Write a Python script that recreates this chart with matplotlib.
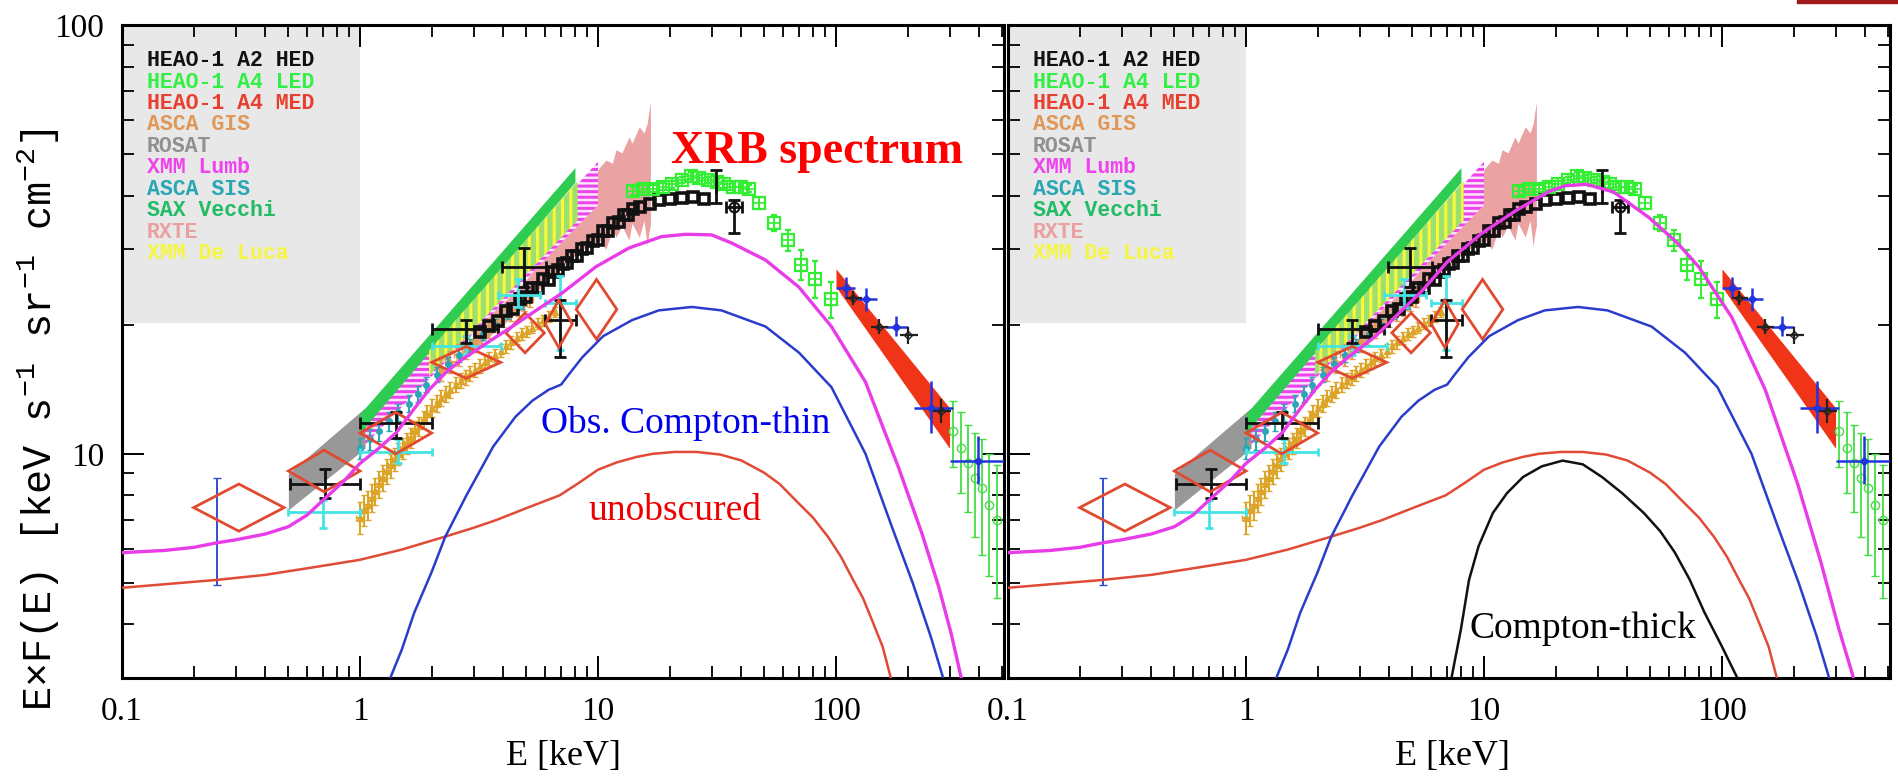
import numpy as np
import matplotlib
matplotlib.use("Agg")
import matplotlib.pyplot as plt
from matplotlib.ticker import FixedLocator, LogLocator, NullFormatter
from matplotlib.patches import Polygon, Rectangle

plt.rcParams["font.family"] = "Liberation Serif"
plt.rcParams["mathtext.fontset"] = "custom"
plt.rcParams["mathtext.rm"] = "Liberation Mono"
plt.rcParams["mathtext.it"] = "Liberation Mono"
plt.rcParams["hatch.linewidth"] = 2.2

MONO = "Liberation Mono"

# ---------------- model components: E [keV] vs E*F(E) ----------------
unobs_E = [0.1, 0.25, 0.4, 0.67, 1.0, 1.5, 2.28, 3.0, 3.72, 5.1, 6.9, 8.3, 10.0, 12.0, 14.6, 17.0, 21.0,
           26.0, 32.6, 40.0, 49.8, 58.0, 67.5, 80.0, 92.6, 105, 118, 130, 143, 157, 170]
unobs_F = [4.87, 5.08, 5.22, 5.46, 5.66, 5.98, 6.41, 6.72, 7.0, 7.5, 8.0, 8.55, 9.18, 9.55, 9.84, 10.0, 10.1,
           10.1, 9.96, 9.65, 9.04, 8.5, 7.8, 7.1, 6.4, 5.75, 5.08, 4.6, 4.04, 3.55, 3.0]

thin_E = [1.34, 1.5, 1.69, 2.0, 2.28, 2.8, 3.63, 4.5, 5.3, 6.2, 7.0, 7.6, 8.6, 10.5, 13.9, 18.0, 24.8,
          33.0, 50.6, 70.0, 95.7, 133, 171, 210, 250, 282]
thin_F = [3.0, 3.5, 4.26, 5.3, 6.4, 8.0, 10.4, 12.2, 13.3, 14.1, 14.5, 15.4, 16.8, 18.8, 20.5, 21.6, 22.0,
          21.6, 19.8, 17.2, 14.3, 10.0, 6.8, 5.0, 3.75, 3.0]

thick_E = [7.3, 8.0, 8.65, 9.5, 10.9, 12.5, 14.6, 17.5, 21.4, 26.0, 31.3, 38.0, 46.9, 55.0, 63.2, 73.0, 84.5, 100, 116]
thick_F = [3.0, 3.9, 5.08, 6.1, 7.28, 8.1, 8.83, 9.35, 9.64, 9.45, 8.83, 8.1, 7.28, 6.6, 5.9, 5.1, 4.26, 3.55, 3.0]

# total XRB model without (left) and with (right) the Compton-thick population
tot_E = [0.1, 0.15, 0.2, 0.25, 0.3, 0.4, 0.5, 0.6, 0.7, 0.85, 1.0, 1.2, 1.42, 1.7, 1.95, 2.3, 2.69, 3.5,
         4.36, 5.5, 7.06, 9.8, 13.5, 18.5, 23.4, 30.0, 36.5, 50.6, 69.7, 95.7, 133, 183, 230, 270, 305, 336]
tot_F = [5.88, 5.95, 6.05, 6.2, 6.3, 6.5, 6.76, 7.2, 7.8, 8.6, 9.5, 10.3, 11.2, 12.8, 14.1, 15.5, 16.6, 18.3,
         19.8, 21.6, 23.7, 27.3, 30.2, 32.1, 32.5, 32.4, 31.0, 28.3, 24.5, 19.8, 14.7, 9.3, 6.5, 4.9, 3.8, 3.0]

totct_E = [0.1, 0.15, 0.2, 0.25, 0.3, 0.4, 0.5, 0.6, 0.7, 0.85, 1.0, 1.2, 1.42, 1.7, 1.95, 2.3, 2.69, 3.5,
           4.4, 5.5, 7.0, 9.8, 13.7, 18.9, 22.0, 27.0, 35.0, 49.2, 65.0, 79.8, 110, 152, 208, 260, 310, 357]
totct_F = [5.88, 5.95, 6.05, 6.2, 6.3, 6.5, 6.76, 7.2, 7.8, 8.6, 9.5, 10.3, 11.2, 12.8, 14.1, 15.6, 16.8, 18.8,
           21.3, 24.0, 28.0, 32.7, 37.0, 41.0, 42.2, 42.5, 40.8, 35.6, 31.0, 27.3, 20.8, 14.1, 8.5, 5.6, 3.9, 3.0]

# ---------------- measurements ----------------
rosat_E, rosat_lo, rosat_hi = [0.5, 1.05], [7.4, 10.3], [9.0, 12.8]
sax_E, sax_lo, sax_hi = [1.0, 8.0], [11.2, 43.0], [12.4, 46.5]
deluca_E, deluca_lo, deluca_hi = [1.95, 8.2], [15.2, 35.0], [17.4, 43.2]
lumb_E, lumb_lo, lumb_hi = [1.0, 10.0], [10.2, 38.0], [11.6, 48.0]

rxte_E = [3.0, 4.0, 5.0, 6.0, 7.0, 8.0, 9.0, 10.1, 10.8, 11.5, 11.9, 12.6, 13.5, 13.9, 14.9, 15.6, 16.1, 16.4, 16.6]
rxte_hi = [19.5, 22.5, 25.5, 29.0, 32.5, 36.0, 40.5, 46.4, 48.4, 47.6, 51.2, 50.3, 54.8, 53.0, 57.9, 56.0, 59.0, 63.4, 66.0]
rxte_lo = [17.5, 20.0, 22.5, 25.0, 27.0, 29.0, 30.5, 31.5, 30.0, 33.5, 32.0, 34.0, 31.5, 34.5, 32.0, 35.0, 30.5, 33.0, 34.0]

med_E, med_lo, med_hi = [100, 300], [24.5, 10.3], [27.0, 12.8]

gis_E = [1.0, 1.04, 1.08, 1.12, 1.16, 1.2, 1.25, 1.3, 1.35, 1.4, 1.45, 1.51, 1.57, 1.63, 1.7, 1.77, 1.85,
         1.92, 2.0, 2.1, 2.2, 2.3, 2.4, 2.52, 2.65, 2.78, 2.9, 3.05, 3.2, 3.35, 3.5, 3.7, 3.9, 4.1, 4.3,
         4.55, 4.8, 5.05, 5.3, 5.6, 5.9, 6.2, 6.6]
gis_F = [7.1, 7.4, 7.6, 7.9, 8.2, 8.5, 8.8, 9.1, 9.4, 9.7, 10.0, 10.3, 10.6, 10.9, 11.3, 11.6, 12.0,
         12.4, 12.8, 13.1, 13.5, 13.8, 14.1, 14.5, 14.8, 15.1, 15.4, 15.7, 16.0, 16.4, 16.7, 17.0, 17.4,
         17.8, 18.2, 18.6, 19.0, 19.3, 19.7, 20.1, 20.5, 20.9, 21.4]
gis2_E = [2.2, 2.4, 2.6, 2.8, 3.0, 3.25, 3.5, 3.75, 4.0, 4.3, 4.6, 4.9, 5.2]
gis2_F = [15.8, 16.4, 17.0, 17.6, 18.3, 18.9, 19.6, 20.2, 20.8, 21.4, 22.0, 22.5, 23.0]

sis_E = [1.0, 1.1, 1.2, 1.32, 1.45, 1.6, 1.75, 1.9, 2.1, 2.35, 2.6, 2.9, 3.3, 3.7, 4.2, 4.8]
sis_F = [10.3, 10.8, 11.3, 11.9, 12.5, 13.1, 13.8, 14.5, 15.3, 16.2, 17.0, 17.9, 19.0, 20.0, 21.2, 22.4]

hed_E = [3.2, 3.5, 3.8, 4.1, 4.4, 4.7, 5.0, 5.3, 5.6, 5.9, 6.2, 6.5, 6.8, 7.1, 7.4, 7.8, 8.2, 8.6, 9.0,
         9.5, 10.0, 10.5, 11.0, 11.6, 12.2, 12.8, 13.4, 14.0, 15.0, 16.5, 18.0, 20.0, 22.5, 25.0, 28.0]
hed_F = [19.2, 19.9, 20.4, 21.5, 21.8, 22.9, 23.2, 24.3, 24.4, 25.5, 25.4, 26.6, 26.8, 27.7, 27.8, 28.9,
         28.9, 30.0, 30.2, 31.3, 31.6, 33.0, 33.1, 34.5, 34.8, 36.1, 36.1, 37.3, 37.6, 38.3, 39.0, 39.2,
         39.5, 39.8, 39.3]

led_E = [14.0, 15.5, 17.0, 18.7, 20.5, 22.5, 24.5, 26.5, 29.0, 31.5, 34.0, 37.0, 40.0, 43.0, 47.5, 55.0, 63.0, 71.5, 82.0, 95.7]
led_F = [41.0, 41.5, 41.5, 42.0, 42.5, 43.5, 44.5, 44.0, 43.5, 43.0, 42.5, 42.0, 42.0, 41.5, 38.5, 34.5, 31.5, 27.6, 25.6, 22.9]
led_dF = [0.8, 0.8, 0.8, 0.8, 0.8, 0.8, 0.8, 0.8, 0.8, 0.8, 0.8, 0.8, 0.8, 0.8, 1.2, 1.5, 1.8, 2.2, 2.5, 2.2]

sax_hx_E = [310, 335, 360, 385, 410, 440, 475]
sax_hx_F = [11.3, 10.3, 9.5, 8.8, 8.3, 7.6, 7.0]
sax_hx_dF = [2.0, 2.2, 2.2, 2.4, 2.5, 2.4, 2.4]

# crosses: centre, x range, y range
blue_E = [110, 134, 179, 251, 395]
blue_F = [24.4, 22.9, 19.8, 12.8, 9.6]
blue_xlo, blue_xhi = [100, 122, 160, 212, 300], [120, 148, 200, 310, 510]
blue_ylo, blue_yhi = [23.1, 21.5, 18.8, 11.2, 8.5], [25.8, 24.3, 21.0, 14.8, 11.0]

bhx_E = [118, 151, 201, 277]
bhx_F = [23.1, 19.8, 18.9, 12.6]
bhx_xlo, bhx_xhi = [110, 140, 185, 255], [128, 165, 222, 305]
bhx_ylo, bhx_yhi = [22.2, 19.0, 18.0, 11.8], [24.0, 20.6, 19.8, 13.4]

blx_E = [0.71, 1.41, 2.8, 4.9, 6.9, 31.3, 37.4]
blx_F = [8.5, 11.8, 19.5, 27.3, 20.5, 42.0, 37.7]
blx_xlo, blx_xhi = [0.51, 1.0, 2.0, 3.95, 6.0, 31.3, 34.4], [1.0, 2.0, 3.8, 6.05, 8.1, 31.3, 40.2]
blx_ylo, blx_yhi = [7.9, 10.9, 18.1, 24.5, 16.8, 38.5, 32.8], [9.2, 12.5, 20.5, 30.2, 22.8, 45.9, 39.1]

cyan_E = [0.70, 1.45, 2.8, 4.6, 6.9]
cyan_F = [7.3, 10.1, 17.8, 23.5, 22.5]
cyan_xlo, cyan_xhi = [0.5, 1.0, 2.0, 3.8, 6.0], [1.0, 2.0, 3.9, 5.7, 8.1]
cyan_ylo, cyan_yhi = [6.7, 9.5, 17.0, 22.0, 17.5], [7.8, 10.8, 18.8, 25.5, 26.0]

euve_E, euve_F, euve_ylo, euve_yhi = [0.25], [6.6], [4.95], [8.8]

# error boxes drawn as diamonds
box_Elo = [0.2, 0.5, 1.0, 2.0, 4.1, 6.0, 8.1]
box_Ehi = [0.48, 1.0, 2.0, 3.9, 5.95, 7.8, 12.0]
box_Flo = [6.6, 8.15, 10.0, 15.0, 17.2, 17.7, 18.5]
box_Fhi = [8.5, 10.2, 12.5, 17.8, 21.3, 22.8, 25.5]

legend_labels = ["HEAO-1 A2 HED", "HEAO-1 A4 LED", "HEAO-1 A4 MED", "ASCA GIS", "ROSAT",
                 "XMM Lumb", "ASCA SIS", "SAX Vecchi", "RXTE", "XMM De Luca"]
legend_colors = ["#111111", "#33ee44", "#e84030", "#e09858", "#909090",
                 "#ee44ee", "#2aa6b4", "#22bb66", "#eaa0a0", "#f6f640"]

C_MAG, C_BLUE, C_RED = "#e83ce8", "#2a3ccc", "#e04a36"


def cross(ax, E, F, xlo, xhi, ylo, yhi, color, lw=2.0, cap=3, **kw):
    E, F = np.array(E, float), np.array(F, float)
    xerr = [E - np.array(xlo), np.array(xhi) - E]
    yerr = [F - np.array(ylo), np.array(yhi) - F]
    ax.errorbar(E, F, xerr=xerr, yerr=yerr, fmt="none", ecolor=color,
                elinewidth=lw, capsize=cap, capthick=lw, **kw)


def draw_panel(ax, mag_E, mag_F, thick=False):
    ax.set_xscale("log")
    ax.set_yscale("log")
    ax.set_xlim(0.1, 508)
    ax.set_ylim(3, 100)

    # legend block
    ax.add_patch(Rectangle((0, 0.544), 0.27, 0.456, transform=ax.transAxes,
                           facecolor="#e8e8e8", edgecolor="none", zorder=0.5))
    for i, (lab, col) in enumerate(zip(legend_labels, legend_colors)):
        ax.text(0.028, 0.9453 - i * 0.0328, lab, transform=ax.transAxes, color=col,
                family=MONO, weight="bold", fontsize=15.5, va="center", zorder=6)

    # bands
    ax.fill_between(rxte_E, rxte_lo, rxte_hi, color="#eaa2a2", lw=0, zorder=1)
    ax.fill_between(lumb_E, lumb_lo, lumb_hi, facecolor="#fbe6fb", edgecolor="#ee44ee",
                    hatch="---", lw=0, zorder=1.2)
    ax.fill_between(rosat_E, rosat_lo, rosat_hi, color="#989898", lw=0, zorder=1.4)
    ax.fill_between(sax_E, sax_lo, sax_hi, color="#2ecc50", lw=0, zorder=1.6)
    ax.fill_between(deluca_E, deluca_lo, deluca_hi, facecolor="#9ee070", edgecolor="#f8f83a",
                    hatch="||", lw=0, zorder=1.6)
    ax.fill_between(med_E, med_lo, med_hi, color="#f03418", lw=0, zorder=1.6)

    # low-energy points
    ax.errorbar(gis_E, gis_F, yerr=0.6, xerr=0.04, fmt="^", ms=4, color="#dca52a",
                elinewidth=1.5, capsize=2, zorder=2)
    ax.errorbar(gis2_E, gis2_F, yerr=1.0, xerr=0.12, fmt="^", ms=4, color="#e49a50",
                elinewidth=1.5, capsize=2, zorder=2)
    ax.errorbar(sis_E, sis_F, yerr=0.6, fmt="o", ms=4, color="#2aa6b4",
                elinewidth=1.5, capsize=2, zorder=2.1)

    # HEAO-1 points
    ax.plot(hed_E, hed_F, "s", mfc="none", mec="#111111", ms=6.5, mew=2.6, zorder=2.5)
    ax.errorbar(led_E, led_F, yerr=led_dF, fmt="s", mfc="none", mec="#33ee33", ms=8,
                mew=1.6, ecolor="#33ee33", elinewidth=1.4, capsize=2, zorder=2.4)
    ax.plot(led_E, led_F, "+", color="#33ee33", ms=8, mew=1.2, zorder=2.4)
    ax.errorbar(sax_hx_E, sax_hx_F, yerr=sax_hx_dF, fmt="o", mfc="none", mec="#44dd44", ms=6,
                ecolor="#44dd44", elinewidth=1.3, capsize=3, zorder=2.4)

    cross(ax, blue_E, blue_F, blue_xlo, blue_xhi, blue_ylo, blue_yhi, "#2233dd", lw=1.8, cap=0, zorder=3)
    ax.plot(blue_E, blue_F, "D", color="#2233dd", ms=4, zorder=3)
    cross(ax, bhx_E, bhx_F, bhx_xlo, bhx_xhi, bhx_ylo, bhx_yhi, "#222222", lw=1.6, cap=0, zorder=3)
    ax.plot(bhx_E, bhx_F, "D", mfc="none", mec="#222222", ms=4, zorder=3)
    cross(ax, cyan_E, cyan_F, cyan_xlo, cyan_xhi, cyan_ylo, cyan_yhi, "#44e4e4", lw=2.0, cap=3, zorder=3)
    cross(ax, blx_E, blx_F, blx_xlo, blx_xhi, blx_ylo, blx_yhi, "#111111", lw=2.0, cap=4, zorder=3.2)
    ax.plot(blx_E[-1:], blx_F[-1:], "o", mfc="none", mec="#111111", ms=7, mew=1.5, zorder=3.2)
    ax.errorbar(euve_E, euve_F, yerr=[[euve_F[0] - euve_ylo[0]], [euve_yhi[0] - euve_F[0]]],
                fmt="none", ecolor="#3050d0", elinewidth=1.4, capsize=3, zorder=3)

    for elo, ehi, flo, fhi in zip(box_Elo, box_Ehi, box_Flo, box_Fhi):
        ec, fc = np.sqrt(elo * ehi), np.sqrt(flo * fhi)
        ax.add_patch(Polygon([(elo, fc), (ec, fhi), (ehi, fc), (ec, flo)], closed=True,
                             fill=False, edgecolor="#e04a30", lw=2.0, zorder=3.5))

    # models
    ax.plot(unobs_E, unobs_F, color=C_RED, lw=1.8, zorder=4)
    ax.plot(thin_E, thin_F, color=C_BLUE, lw=1.8, zorder=4)
    if thick:
        ax.plot(thick_E, thick_F, color="#111111", lw=1.8, zorder=4)
    ax.plot(mag_E, mag_F, color=C_MAG, lw=2.4, zorder=4.2)

    # axes cosmetics
    ax.xaxis.set_major_locator(FixedLocator([0.1, 1, 10, 100]))
    ax.set_xticklabels(["0.1", "1", "10", "100"])
    ax.xaxis.set_minor_locator(LogLocator(base=10, subs=np.arange(2, 10), numticks=20))
    ax.xaxis.set_minor_formatter(NullFormatter())
    ax.yaxis.set_major_locator(FixedLocator([10, 100]))
    ax.set_yticklabels(["10", "100"])
    ax.yaxis.set_minor_locator(LogLocator(base=10, subs=np.arange(2, 10), numticks=20))
    ax.yaxis.set_minor_formatter(NullFormatter())
    ax.tick_params(which="major", direction="in", length=16, width=1.4, top=True, right=True,
                   labelsize=24, pad=13)
    ax.tick_params(which="minor", direction="in", length=8.5, width=1.3, top=True, right=True)
    for sp in ax.spines.values():
        sp.set_linewidth(2.2)


fig = plt.figure(figsize=(18.98, 7.79), dpi=100)
ax1 = fig.add_axes([122 / 1898, 101 / 779, 882 / 1898, 653 / 779])
ax2 = fig.add_axes([1008 / 1898, 101 / 779, 882 / 1898, 653 / 779])

draw_panel(ax1, tot_E, tot_F)
draw_panel(ax2, totct_E, totct_F, thick=True)
ax2.tick_params(labelleft=False)

ax1.text(20.2, 47.6, "XRB spectrum", color="#ff0000", fontsize=33, weight="bold", va="baseline", zorder=7)
ax1.text(5.77, 11.2, "Obs. Compton-thin", color="#0000ee", fontsize=27, va="baseline", zorder=7)
ax1.text(9.16, 7.0, "unobscured", color="#ee0000", fontsize=27, va="baseline", zorder=7)
ax2.text(8.65, 3.72, "Compton-thick", color="#000000", fontsize=27, va="baseline", zorder=7)

fig.text(563 / 1898, 1 - 757 / 779, "E [keV]", ha="center", va="center", fontsize=26)
fig.text(1452 / 1898, 1 - 757 / 779, "E [keV]", ha="center", va="center", fontsize=26)
fig.text(39 / 1898, 1 - 420 / 779, "E\u00d7F(E) [keV s$^{-1}$ sr$^{-1}$ cm$^{-2}$]",
         rotation=90, ha="center", va="center", family=MONO, fontsize=29)

fig.add_artist(Rectangle((1797 / 1898, 776 / 779), 101 / 1898, 3 / 779,
                         transform=fig.transFigure, color="#a01818"))

fig.savefig("out.png", dpi=100)
